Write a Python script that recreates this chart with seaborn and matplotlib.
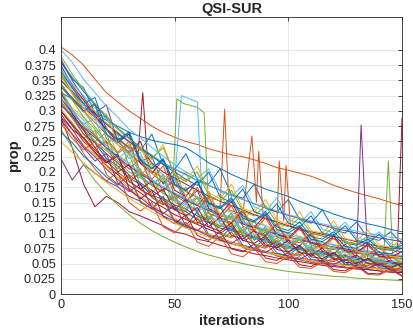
import matplotlib
matplotlib.use("Agg")
import matplotlib.pyplot as plt
import seaborn as sns
import pandas as pd

# iteration grid shared by most runs
iters = [0, 5, 10, 15, 20, 25, 30, 35, 40, 45, 50, 55, 60, 65, 70, 75,
         80, 85, 90, 95, 100, 105, 110, 115, 120, 125, 130, 135, 140, 145, 150]

# runs with short spikes get their own iteration lists
iters_r06 = [0, 5, 10, 15, 20, 25, 30, 35, 40, 45, 50, 53, 60, 62, 65, 70, 75,
             80, 85, 90, 95, 100, 105, 110, 115, 120, 125, 130, 135, 140, 145, 150]
iters_r09 = [0, 5, 10, 15, 20, 25, 30, 35, 40, 45, 50, 55, 60, 65, 70, 72, 74, 80, 84, 86, 87, 89,
             95, 96, 98, 99, 101, 105, 110, 115, 120, 125, 130, 135, 140, 145, 150]
iters_r11 = [0, 5, 10, 15, 20, 25, 30, 35, 40, 45, 50, 55, 60, 65, 70, 75, 80, 85, 90, 95,
             100, 105, 110, 115, 120, 125, 130, 132, 135, 140, 145, 150]
iters_r12 = [0, 5, 10, 15, 20, 25, 30, 35, 40, 45, 49, 51, 54, 60, 63, 65, 70, 75, 80, 85, 90,
             95, 100, 105, 110, 115, 120, 125, 130, 135, 140, 142, 144, 146, 150]
iters_r14 = [0, 5, 10, 15, 20, 25, 30, 34, 36, 38, 40, 45, 50, 55, 60, 65, 70, 75, 80, 85, 90,
             95, 100, 105, 110, 115, 120, 125, 130, 135, 140, 145, 148, 150]

# proportion per run (approximate)
r01 = [0.380, 0.352, 0.338, 0.296, 0.290, 0.252, 0.262, 0.218, 0.225, 0.180, 0.196, 0.150, 0.170, 0.122, 0.145, 0.105,
       0.124, 0.088, 0.102, 0.075, 0.090, 0.064, 0.078, 0.055, 0.066, 0.048, 0.058, 0.042, 0.052, 0.038, 0.045]
r02 = [0.405, 0.392, 0.375, 0.352, 0.330, 0.315, 0.300, 0.288, 0.275, 0.265, 0.257, 0.250, 0.245, 0.238, 0.233, 0.228,
       0.225, 0.220, 0.214, 0.207, 0.203, 0.198, 0.193, 0.186, 0.178, 0.172, 0.166, 0.161, 0.156, 0.150, 0.145]
r03 = [0.330, 0.305, 0.290, 0.262, 0.275, 0.228, 0.214, 0.226, 0.183, 0.170, 0.188, 0.149, 0.133, 0.158, 0.116, 0.110,
       0.130, 0.097, 0.088, 0.105, 0.078, 0.072, 0.090, 0.063, 0.061, 0.075, 0.054, 0.050, 0.062, 0.046, 0.043]
r04 = [0.222, 0.187, 0.212, 0.198, 0.185, 0.176, 0.160, 0.152, 0.140, 0.128, 0.120, 0.110, 0.104, 0.095, 0.089, 0.082,
       0.078, 0.072, 0.068, 0.063, 0.060, 0.056, 0.052, 0.050, 0.047, 0.044, 0.042, 0.040, 0.038, 0.036, 0.035]
r05 = [0.300, 0.281, 0.255, 0.268, 0.221, 0.205, 0.230, 0.178, 0.165, 0.190, 0.142, 0.136, 0.160, 0.118, 0.110, 0.132,
       0.097, 0.090, 0.110, 0.080, 0.074, 0.095, 0.066, 0.064, 0.080, 0.056, 0.054, 0.068, 0.049, 0.046, 0.058]
r06 = [0.360, 0.338, 0.310, 0.296, 0.270, 0.255, 0.238, 0.221, 0.213, 0.195, 0.183, 0.325, 0.315, 0.165, 0.150, 0.141,
       0.134, 0.125, 0.118, 0.112, 0.104, 0.100, 0.094, 0.090, 0.084, 0.081, 0.077, 0.074, 0.070, 0.068, 0.065, 0.062]
r07 = [0.290, 0.240, 0.180, 0.143, 0.160, 0.150, 0.135, 0.128, 0.120, 0.112, 0.102, 0.098, 0.090, 0.086, 0.080, 0.075,
       0.071, 0.066, 0.063, 0.059, 0.056, 0.053, 0.050, 0.047, 0.045, 0.043, 0.041, 0.040, 0.038, 0.036, 0.035]
r08 = [0.350, 0.330, 0.311, 0.290, 0.280, 0.262, 0.250, 0.235, 0.262, 0.212, 0.204, 0.230, 0.188, 0.180, 0.205, 0.163,
       0.157, 0.180, 0.141, 0.134, 0.155, 0.122, 0.116, 0.138, 0.105, 0.100, 0.118, 0.092, 0.088, 0.102, 0.082]
r09 = [0.340, 0.318, 0.300, 0.281, 0.262, 0.245, 0.230, 0.215, 0.201, 0.190, 0.178, 0.168, 0.158, 0.150, 0.142, 0.303,
       0.138, 0.130, 0.259, 0.150, 0.234, 0.125, 0.118, 0.218, 0.120, 0.211, 0.110, 0.105, 0.100, 0.095, 0.090, 0.086,
       0.082, 0.078, 0.075, 0.072, 0.069]
r10 = [0.370, 0.335, 0.318, 0.290, 0.271, 0.255, 0.236, 0.250, 0.208, 0.190, 0.181, 0.200, 0.155, 0.148, 0.165, 0.130,
       0.121, 0.140, 0.108, 0.101, 0.120, 0.090, 0.087, 0.102, 0.078, 0.074, 0.088, 0.067, 0.064, 0.078, 0.059]
r11 = [0.320, 0.296, 0.270, 0.248, 0.230, 0.215, 0.195, 0.182, 0.170, 0.157, 0.146, 0.139, 0.128, 0.120, 0.112, 0.106,
       0.100, 0.093, 0.088, 0.084, 0.079, 0.075, 0.072, 0.068, 0.064, 0.062, 0.060, 0.277, 0.057, 0.055, 0.053, 0.050]
r12 = [0.310, 0.290, 0.268, 0.250, 0.235, 0.218, 0.200, 0.190, 0.178, 0.165, 0.158, 0.320, 0.312, 0.306, 0.297, 0.140,
       0.132, 0.125, 0.118, 0.110, 0.104, 0.099, 0.093, 0.089, 0.084, 0.080, 0.076, 0.072, 0.069, 0.066, 0.063, 0.062,
       0.218, 0.060, 0.058]
r13 = [0.330, 0.302, 0.285, 0.260, 0.240, 0.226, 0.205, 0.192, 0.180, 0.166, 0.155, 0.143, 0.135, 0.146, 0.118, 0.125,
       0.105, 0.112, 0.092, 0.099, 0.082, 0.090, 0.074, 0.081, 0.066, 0.072, 0.060, 0.066, 0.055, 0.060, 0.051]
r14 = [0.360, 0.330, 0.305, 0.290, 0.270, 0.255, 0.240, 0.232, 0.330, 0.225, 0.215, 0.200, 0.190, 0.180, 0.170, 0.160,
       0.152, 0.145, 0.138, 0.130, 0.124, 0.118, 0.112, 0.107, 0.102, 0.098, 0.094, 0.090, 0.086, 0.082, 0.078, 0.075,
       0.074, 0.288]
r15 = [0.330, 0.320, 0.305, 0.295, 0.285, 0.275, 0.265, 0.258, 0.252, 0.248, 0.245, 0.240, 0.228, 0.215, 0.206, 0.196,
       0.188, 0.180, 0.172, 0.166, 0.160, 0.152, 0.145, 0.138, 0.131, 0.125, 0.120, 0.115, 0.111, 0.106, 0.102]
r16 = [0.290, 0.262, 0.230, 0.205, 0.185, 0.200, 0.150, 0.136, 0.150, 0.110, 0.100, 0.118, 0.085, 0.078, 0.095, 0.066,
       0.061, 0.075, 0.053, 0.050, 0.062, 0.044, 0.042, 0.052, 0.037, 0.035, 0.045, 0.032, 0.031, 0.040, 0.029]
r17 = [0.280, 0.262, 0.245, 0.228, 0.212, 0.196, 0.184, 0.170, 0.160, 0.150, 0.140, 0.131, 0.124, 0.135, 0.110, 0.118,
       0.098, 0.106, 0.088, 0.095, 0.080, 0.088, 0.072, 0.080, 0.066, 0.071, 0.060, 0.065, 0.056, 0.060, 0.052]
r18 = [0.385, 0.350, 0.322, 0.296, 0.310, 0.250, 0.232, 0.250, 0.198, 0.182, 0.205, 0.156, 0.145, 0.168, 0.125, 0.117,
       0.138, 0.102, 0.095, 0.115, 0.084, 0.079, 0.098, 0.070, 0.066, 0.082, 0.059, 0.056, 0.070, 0.051, 0.048]
r19 = [0.270, 0.240, 0.212, 0.186, 0.165, 0.146, 0.130, 0.116, 0.104, 0.094, 0.085, 0.077, 0.070, 0.064, 0.059, 0.054,
       0.050, 0.046, 0.043, 0.040, 0.037, 0.035, 0.033, 0.031, 0.029, 0.028, 0.026, 0.025, 0.024, 0.023, 0.022]
r20 = [0.400, 0.380, 0.352, 0.330, 0.308, 0.290, 0.270, 0.256, 0.240, 0.226, 0.212, 0.200, 0.190, 0.205, 0.168, 0.160,
       0.178, 0.143, 0.135, 0.158, 0.122, 0.116, 0.135, 0.106, 0.100, 0.118, 0.092, 0.088, 0.102, 0.082, 0.079]
r21 = [0.300, 0.276, 0.250, 0.232, 0.210, 0.196, 0.178, 0.166, 0.152, 0.142, 0.130, 0.122, 0.114, 0.106, 0.099, 0.112,
       0.087, 0.095, 0.077, 0.086, 0.069, 0.078, 0.062, 0.070, 0.056, 0.064, 0.051, 0.058, 0.047, 0.052, 0.044]
r22 = [0.310, 0.292, 0.262, 0.248, 0.222, 0.210, 0.190, 0.180, 0.162, 0.155, 0.140, 0.135, 0.122, 0.118, 0.108, 0.104,
       0.096, 0.092, 0.086, 0.082, 0.076, 0.073, 0.069, 0.066, 0.063, 0.060, 0.057, 0.055, 0.053, 0.051, 0.049]
r23 = [0.345, 0.320, 0.298, 0.310, 0.255, 0.232, 0.250, 0.200, 0.188, 0.210, 0.162, 0.150, 0.175, 0.132, 0.125, 0.145,
       0.111, 0.104, 0.125, 0.093, 0.089, 0.108, 0.080, 0.076, 0.092, 0.069, 0.066, 0.080, 0.061, 0.058, 0.070]
r24 = [0.360, 0.340, 0.316, 0.300, 0.280, 0.266, 0.248, 0.236, 0.220, 0.245, 0.196, 0.186, 0.210, 0.166, 0.156, 0.180,
       0.140, 0.134, 0.155, 0.121, 0.114, 0.135, 0.104, 0.100, 0.120, 0.091, 0.087, 0.105, 0.080, 0.077, 0.090]
r25 = [0.290, 0.270, 0.242, 0.225, 0.205, 0.188, 0.170, 0.158, 0.143, 0.133, 0.122, 0.114, 0.105, 0.098, 0.092, 0.085,
       0.080, 0.075, 0.070, 0.066, 0.062, 0.059, 0.056, 0.053, 0.050, 0.048, 0.046, 0.044, 0.042, 0.040, 0.039]
r26 = [0.345, 0.318, 0.290, 0.270, 0.246, 0.262, 0.210, 0.194, 0.215, 0.165, 0.152, 0.175, 0.131, 0.122, 0.145, 0.106,
       0.100, 0.120, 0.088, 0.083, 0.100, 0.074, 0.070, 0.086, 0.063, 0.060, 0.075, 0.055, 0.052, 0.064, 0.048]
r27 = [0.315, 0.295, 0.280, 0.258, 0.244, 0.226, 0.214, 0.198, 0.186, 0.175, 0.166, 0.155, 0.148, 0.139, 0.132, 0.124,
       0.118, 0.112, 0.106, 0.101, 0.096, 0.092, 0.088, 0.084, 0.080, 0.077, 0.074, 0.071, 0.068, 0.066, 0.063]
r28 = [0.375, 0.342, 0.318, 0.292, 0.270, 0.248, 0.262, 0.214, 0.198, 0.220, 0.170, 0.160, 0.185, 0.140, 0.130, 0.152,
       0.115, 0.109, 0.130, 0.097, 0.092, 0.110, 0.083, 0.079, 0.095, 0.071, 0.068, 0.082, 0.062, 0.060, 0.070]
r29 = [0.265, 0.248, 0.226, 0.210, 0.192, 0.178, 0.195, 0.150, 0.140, 0.160, 0.120, 0.112, 0.135, 0.097, 0.091, 0.110,
       0.080, 0.075, 0.092, 0.067, 0.063, 0.078, 0.057, 0.054, 0.068, 0.049, 0.047, 0.058, 0.043, 0.042, 0.050]
r30 = [0.320, 0.300, 0.275, 0.260, 0.238, 0.222, 0.205, 0.222, 0.178, 0.168, 0.190, 0.147, 0.137, 0.160, 0.121, 0.115,
       0.135, 0.103, 0.097, 0.115, 0.088, 0.084, 0.100, 0.076, 0.073, 0.088, 0.067, 0.064, 0.076, 0.060, 0.058]
r31 = [0.305, 0.278, 0.252, 0.230, 0.209, 0.191, 0.174, 0.160, 0.146, 0.134, 0.124, 0.114, 0.106, 0.098, 0.091, 0.085,
       0.079, 0.074, 0.069, 0.065, 0.061, 0.058, 0.055, 0.052, 0.049, 0.047, 0.045, 0.043, 0.041, 0.039, 0.038]
r32 = [0.350, 0.332, 0.312, 0.295, 0.278, 0.264, 0.250, 0.238, 0.226, 0.215, 0.205, 0.196, 0.186, 0.178, 0.170, 0.162,
       0.155, 0.148, 0.141, 0.135, 0.129, 0.124, 0.118, 0.113, 0.108, 0.104, 0.100, 0.096, 0.092, 0.089, 0.086]
r33 = [0.335, 0.302, 0.276, 0.250, 0.265, 0.208, 0.190, 0.205, 0.160, 0.147, 0.165, 0.126, 0.116, 0.135, 0.100, 0.094,
       0.110, 0.082, 0.077, 0.092, 0.068, 0.064, 0.078, 0.057, 0.054, 0.066, 0.049, 0.047, 0.058, 0.043, 0.041]
r34 = [0.370, 0.345, 0.325, 0.305, 0.286, 0.270, 0.254, 0.240, 0.228, 0.215, 0.205, 0.195, 0.186, 0.178, 0.170, 0.162,
       0.155, 0.148, 0.142, 0.136, 0.130, 0.125, 0.120, 0.115, 0.111, 0.107, 0.103, 0.099, 0.096, 0.093, 0.090]
r35 = [0.330, 0.296, 0.268, 0.240, 0.215, 0.230, 0.172, 0.156, 0.170, 0.127, 0.115, 0.130, 0.096, 0.088, 0.102, 0.074,
       0.069, 0.082, 0.059, 0.055, 0.068, 0.048, 0.045, 0.056, 0.040, 0.038, 0.048, 0.034, 0.033, 0.042, 0.030]
r36 = [0.380, 0.355, 0.332, 0.310, 0.290, 0.272, 0.256, 0.240, 0.226, 0.212, 0.200, 0.188, 0.178, 0.200, 0.159, 0.150,
       0.172, 0.135, 0.128, 0.148, 0.116, 0.110, 0.128, 0.100, 0.096, 0.112, 0.088, 0.084, 0.098, 0.078, 0.075]
r37 = [0.280, 0.255, 0.236, 0.250, 0.196, 0.180, 0.195, 0.152, 0.139, 0.155, 0.118, 0.109, 0.125, 0.094, 0.087, 0.102,
       0.076, 0.071, 0.085, 0.062, 0.058, 0.070, 0.052, 0.049, 0.060, 0.044, 0.042, 0.052, 0.038, 0.036, 0.044]
r38 = [0.250, 0.232, 0.215, 0.198, 0.183, 0.170, 0.157, 0.146, 0.135, 0.125, 0.116, 0.108, 0.100, 0.093, 0.087, 0.082,
       0.077, 0.072, 0.068, 0.064, 0.060, 0.057, 0.054, 0.051, 0.049, 0.047, 0.045, 0.043, 0.041, 0.039, 0.038]
r39 = [0.310, 0.292, 0.272, 0.256, 0.240, 0.224, 0.210, 0.197, 0.185, 0.174, 0.164, 0.154, 0.145, 0.137, 0.129, 0.122,
       0.115, 0.109, 0.103, 0.098, 0.093, 0.089, 0.085, 0.081, 0.077, 0.074, 0.071, 0.068, 0.065, 0.063, 0.061]
r40 = [0.360, 0.328, 0.300, 0.274, 0.250, 0.230, 0.245, 0.194, 0.178, 0.195, 0.151, 0.140, 0.158, 0.120, 0.111, 0.128,
       0.097, 0.090, 0.106, 0.079, 0.074, 0.090, 0.066, 0.062, 0.076, 0.056, 0.053, 0.064, 0.048, 0.046, 0.054]
r41 = [0.370, 0.340, 0.310, 0.290, 0.262, 0.245, 0.222, 0.232, 0.188, 0.175, 0.190, 0.148, 0.138, 0.150, 0.115, 0.108,
       0.122, 0.092, 0.086, 0.098, 0.075, 0.070, 0.082, 0.062, 0.060, 0.070, 0.054, 0.052, 0.060, 0.048, 0.046]
r42 = [0.295, 0.270, 0.255, 0.232, 0.215, 0.226, 0.185, 0.172, 0.185, 0.148, 0.138, 0.155, 0.118, 0.110, 0.126, 0.096,
       0.090, 0.104, 0.080, 0.076, 0.088, 0.068, 0.064, 0.075, 0.058, 0.055, 0.064, 0.050, 0.048, 0.056, 0.044]
r43 = [0.340, 0.322, 0.300, 0.312, 0.262, 0.248, 0.265, 0.218, 0.205, 0.222, 0.180, 0.170, 0.185, 0.150, 0.142, 0.158,
       0.128, 0.120, 0.135, 0.110, 0.104, 0.118, 0.094, 0.090, 0.102, 0.084, 0.080, 0.090, 0.074, 0.072, 0.080]
r44 = [0.315, 0.288, 0.262, 0.240, 0.250, 0.200, 0.185, 0.198, 0.158, 0.146, 0.160, 0.124, 0.115, 0.128, 0.098, 0.092,
       0.105, 0.080, 0.075, 0.088, 0.066, 0.062, 0.074, 0.056, 0.053, 0.062, 0.048, 0.046, 0.055, 0.042, 0.040]
r45 = [0.355, 0.330, 0.305, 0.285, 0.295, 0.245, 0.228, 0.242, 0.198, 0.185, 0.200, 0.160, 0.150, 0.166, 0.130, 0.122,
       0.140, 0.108, 0.102, 0.118, 0.092, 0.088, 0.102, 0.080, 0.076, 0.088, 0.070, 0.067, 0.078, 0.062, 0.060]
r46 = [0.285, 0.262, 0.240, 0.218, 0.230, 0.182, 0.168, 0.180, 0.142, 0.132, 0.145, 0.112, 0.104, 0.118, 0.088, 0.083,
       0.095, 0.072, 0.068, 0.080, 0.060, 0.057, 0.067, 0.051, 0.049, 0.057, 0.044, 0.042, 0.050, 0.039, 0.037]
r47 = [0.390, 0.360, 0.335, 0.312, 0.292, 0.272, 0.255, 0.238, 0.222, 0.240, 0.195, 0.184, 0.200, 0.162, 0.152, 0.170,
       0.136, 0.128, 0.145, 0.116, 0.110, 0.125, 0.100, 0.095, 0.110, 0.086, 0.082, 0.095, 0.076, 0.073, 0.084]
r48 = [0.325, 0.300, 0.278, 0.288, 0.238, 0.222, 0.236, 0.192, 0.180, 0.195, 0.156, 0.146, 0.160, 0.126, 0.118, 0.132,
       0.102, 0.096, 0.110, 0.085, 0.080, 0.092, 0.070, 0.067, 0.078, 0.060, 0.058, 0.068, 0.053, 0.051, 0.060]
r49 = [0.300, 0.278, 0.256, 0.236, 0.218, 0.200, 0.212, 0.172, 0.160, 0.172, 0.138, 0.128, 0.142, 0.110, 0.103, 0.116,
       0.088, 0.083, 0.095, 0.073, 0.069, 0.080, 0.061, 0.058, 0.068, 0.052, 0.050, 0.058, 0.046, 0.044, 0.050]
r50 = [0.365, 0.338, 0.312, 0.322, 0.270, 0.252, 0.266, 0.220, 0.206, 0.220, 0.180, 0.170, 0.185, 0.148, 0.140, 0.155,
       0.124, 0.118, 0.132, 0.106, 0.100, 0.112, 0.090, 0.086, 0.098, 0.078, 0.075, 0.085, 0.068, 0.066, 0.075]

runs = [(iters, r01), (iters, r02), (iters, r03), (iters, r04), (iters, r05), (iters_r06, r06),
        (iters, r07), (iters, r08), (iters_r09, r09), (iters, r10), (iters_r11, r11), (iters_r12, r12),
        (iters, r13), (iters_r14, r14), (iters, r15), (iters, r16), (iters, r17), (iters, r18),
        (iters, r19), (iters, r20), (iters, r21), (iters, r22), (iters, r23), (iters, r24),
        (iters, r25), (iters, r26), (iters, r27), (iters, r28), (iters, r29), (iters, r30),
        (iters, r31), (iters, r32), (iters, r33), (iters, r34), (iters, r35), (iters, r36),
        (iters, r37), (iters, r38), (iters, r39), (iters, r40), (iters, r41), (iters, r42),
        (iters, r43), (iters, r44), (iters, r45), (iters, r46), (iters, r47), (iters, r48),
        (iters, r49), (iters, r50)]

y_ticks = [0, 0.025, 0.05, 0.075, 0.1, 0.125, 0.15, 0.175, 0.2, 0.225, 0.25,
           0.275, 0.3, 0.325, 0.35, 0.375, 0.4]
x_ticks = [0, 50, 100, 150]

# MATLAB default line colour order
matlab_colors = ["#0072BD", "#D95319", "#EDB120", "#7E2F8E", "#77AC30", "#4DBEEE", "#A2142F"]

rows = []
for i, (xs, ys) in enumerate(runs):
    for it, val in zip(xs, ys):
        rows.append({"run": i, "iterations": it, "prop": val})
df = pd.DataFrame(rows)
palette = [matlab_colors[i % len(matlab_colors)] for i in range(len(runs))]

sns.set_style("white")
plt.rcParams["font.family"] = ["Liberation Sans", "DejaVu Sans"]

fig = plt.figure(figsize=(4.14, 3.33), dpi=100)
ax = fig.add_axes([0.147, 0.117, 0.824, 0.832])

sns.lineplot(data=df, x="iterations", y="prop", hue="run", palette=palette,
             legend=False, linewidth=0.7, ax=ax, sort=False)

ax.set_xlim(0, 150)
ax.set_ylim(0, 0.454)
ax.set_xticks(x_ticks)
ax.set_yticks(y_ticks)
ax.set_yticklabels(["%g" % v for v in y_ticks])
ax.grid(True, color="#e3e3e3", linewidth=0.6)
ax.set_axisbelow(True)
ax.tick_params(direction="in", length=3, width=0.6, colors="#262626",
               labelsize=9.2, top=True, right=True, labelcolor="#262626")
for sp in ax.spines.values():
    sp.set_color("#262626")
    sp.set_linewidth(0.6)

ax.set_title("QSI-SUR", fontsize=10.5, fontweight="bold", pad=3)
ax.set_xlabel("iterations", fontsize=10.5, fontweight="bold", labelpad=2)
ax.set_ylabel("prop", fontsize=10.5, fontweight="bold", labelpad=2)

fig.savefig("out.png", dpi=100)
plt.close(fig)
